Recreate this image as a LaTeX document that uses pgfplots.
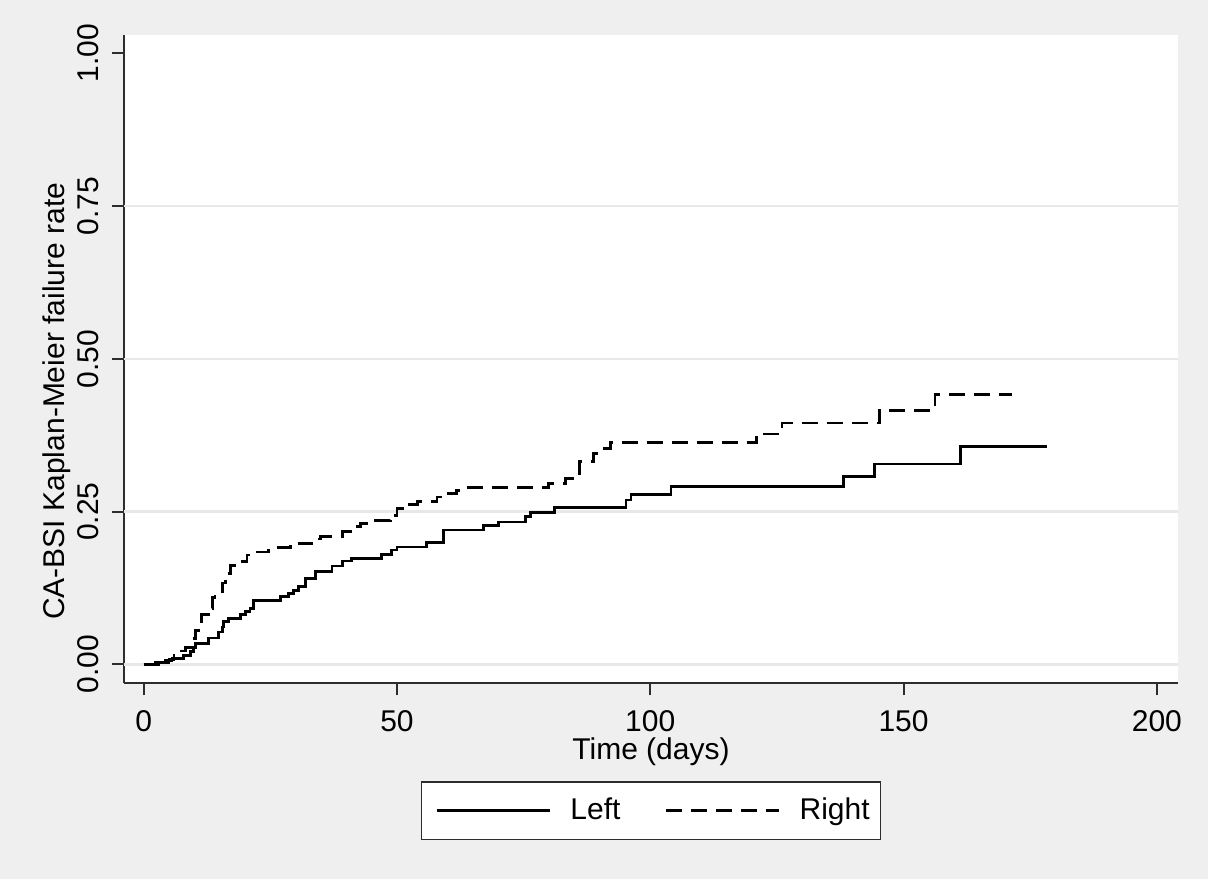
\documentclass[border=0pt]{standalone}
\usepackage{fontspec}
\setmainfont{Liberation Sans}
\usepackage{pgfplots}
\pgfplotsset{compat=1.18}
\definecolor{bg}{RGB}{239,239,239}
\definecolor{gridc}{RGB}{232,232,232}
\definecolor{axc}{RGB}{45,45,45}

\begin{document}
\fontsize{15}{18}\selectfont
\begin{tikzpicture}
% outer graph region
\fill[bg] (-62.2pt,-97.9pt) rectangle (541.9pt,341.7pt);
\begin{axis}[
    at={(0pt,0pt)}, anchor=south west, scale only axis,
    width=526.7pt, height=324.2pt,
    xmin=-3.8, xmax=204.1, ymin=-0.031, ymax=1.03,
    axis x line*=bottom, axis y line*=left,
    axis line style={line width=1pt, axc},
    axis background/.style={fill=white},
    xtick={0,50,100,150,200},
    ytick={0,0.25,0.5,0.75,1},
    yticklabels={0.00,0.25,0.50,0.75,1.00},
    extra y ticks={0,0.25,0.5,0.75},
    extra y tick labels={},
    extra y tick style={grid=major, major tick length=0pt},
    grid style={gridc, line width=1.2pt},
    tick align=outside, major tick length=6pt,
    tick style={line width=1pt, axc},
    /pgf/number format/assume math mode=true,
    tick label style={font=\fontsize{15}{18}\selectfont, black},
    xticklabel shift=2.3pt,
    yticklabel style={rotate=90, anchor=south},
    yticklabel shift=1.5pt,
    xlabel={Time (days)},
    xlabel style={at={(axis description cs:0.5,-0.1169)}, anchor=base, font=\fontsize{15}{18}\selectfont},
    ylabel={CA-BSI Kaplan-Meier failure rate},
    ylabel style={at={(axis description cs:-0.0568,0.435)}, anchor=base, font=\fontsize{15}{18}\selectfont},
    legend columns=2,
    legend style={at={(axis description cs:0.5,-0.1965)}, anchor=center,
        draw=axc, line width=0.6pt, fill=white, font=\fontsize{15}{18}\selectfont,
        inner xsep=3.5pt, inner ysep=5.75pt,
        /tikz/every odd column/.append style={column sep=7.5pt},
        /tikz/every even column/.append style={column sep=16.5pt}},
    legend image code/.code={\path (0pt,0pt); \draw[#1] (3.5pt,0pt) -- (60.2pt,0pt);},
]
% Left (solid)
\addplot[const plot, black, line width=1.4pt] coordinates {
 (0,0) (2.3,0.003) (4.3,0.006) (5.6,0.010) (7.9,0.015) (9.2,0.021) (9.8,0.027)
 (10.2,0.034) (12.8,0.043) (14.8,0.053) (15.5,0.061) (15.8,0.070) (16.8,0.075)
 (19.1,0.081) (20.1,0.086) (21,0.092) (21.7,0.105) (27,0.111) (28.6,0.116)
 (29.6,0.121) (30.6,0.127) (31.9,0.140) (33.9,0.152) (37.2,0.161) (39.2,0.169)
 (41.1,0.173) (47,0.180) (49,0.187) (50,0.192) (55.9,0.200) (59.2,0.220)
 (67.1,0.227) (70.1,0.233) (75.3,0.242) (76.3,0.249) (81.1,0.257) (95.2,0.269)
 (96.2,0.278) (104.1,0.291) (138.2,0.308) (144.3,0.328) (161.2,0.356) (178.3,0.356)
};
\addlegendentry{Left}
% Right (dashed)
\addplot[const plot, black, line width=1.4pt, dash pattern=on 8pt off 4.5pt] coordinates {
 (0,0) (3,0.003) (5,0.008) (6,0.015) (7.5,0.022) (8.2,0.028) (9.5,0.042)
 (10.2,0.056) (11.5,0.081) (13.2,0.092) (13.6,0.110) (14.1,0.119) (15.5,0.133)
 (16.1,0.149) (17.1,0.162) (18.4,0.168) (20.4,0.179) (21.4,0.184) (24.7,0.191)
 (29,0.198) (33.2,0.205) (34.9,0.209) (39.2,0.217) (41.4,0.225) (42.8,0.231)
 (44.4,0.236) (48.7,0.244) (50,0.255) (52,0.262) (54,0.266) (57.9,0.274)
 (59.9,0.280) (61.8,0.285) (63.8,0.289) (79.9,0.296) (83.2,0.304) (86,0.332)
 (88.8,0.345) (89.5,0.353) (92.1,0.363) (121,0.377) (126,0.395) (145.3,0.416)
 (156.2,0.441) (171.4,0.441)
};
\addlegendentry{Right}
\end{axis}
\end{tikzpicture}
\end{document}
